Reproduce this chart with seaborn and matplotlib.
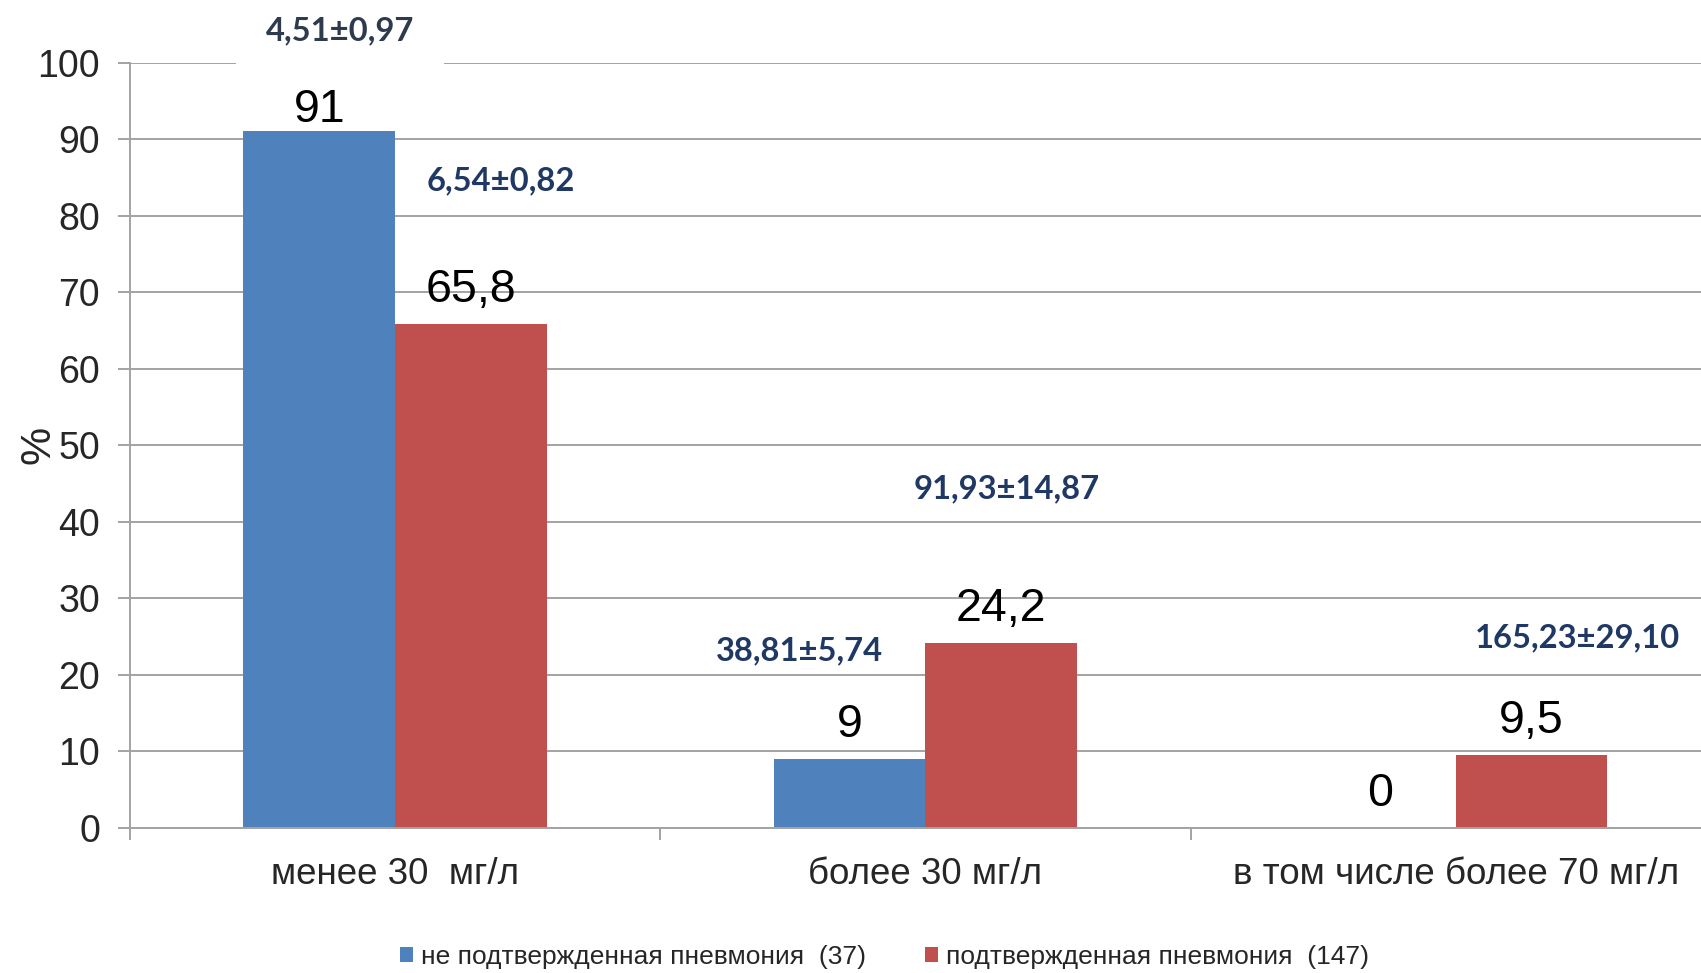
import matplotlib
matplotlib.use("Agg")
import matplotlib.pyplot as plt
import seaborn as sns
import pandas as pd

# CRP level groups and share of patients (%) in each group
categories = ["менее 30  мг/л", "более 30 мг/л", "в том числе более 70 мг/л"]
groups = ["не подтвержденная пневмония  (37)", "подтвержденная пневмония  (147)"]
unconfirmed = [91, 9, 0]
confirmed = [65.8, 24.2, 9.5]

# mean CRP ± SD (mg/l) shown above each group of bars
crp_unconfirmed = ["4,51±0,97", "38,81±5,74", None]
crp_confirmed = ["6,54±0,82", "91,93±14,87", "165,23±29,10"]

yticks = list(range(0, 101, 10))

BLUE = "#4F81BD"
RED = "#C0504D"
GRID = "#A3A3A3"

sns.set_style("white")
plt.rcParams["font.family"] = ["Liberation Sans", "DejaVu Sans"]

df = pd.DataFrame({
    "cat": categories * 2,
    "group": [groups[0]] * 3 + [groups[1]] * 3,
    "value": unconfirmed + confirmed,
})

fig = plt.figure(figsize=(17.01, 9.73), dpi=100)
ax = fig.add_axes([130 / 1701, 1 - 828 / 973, 3 * 530.3 / 1701, (828 - 62.6) / 973])

sns.barplot(data=df, x="cat", y="value", hue="group", palette=[BLUE, RED],
            width=0.572, gap=0, saturation=1, errorbar=None, ax=ax,
            linewidth=0)

ax.set_xlim(-0.5, 2.5)
ax.set_ylim(0, 100)
ax.set_yticks(yticks)
ax.set_yticklabels([str(t) for t in yticks])
ax.yaxis.grid(True, color=GRID, linewidth=1.4)
ax.set_axisbelow(True)

for s in ("top", "right"):
    ax.spines[s].set_visible(False)
for s in ("left", "bottom"):
    ax.spines[s].set_color(GRID)
    ax.spines[s].set_linewidth(1.4)

ax.tick_params(axis="y", which="major", direction="out", length=8.6, width=1.4,
               color=GRID, labelsize=27, pad=13, left=True)
ax.set_xticks([0, 1, 2])
ax.set_xticklabels(categories)
ax.tick_params(axis="x", which="major", length=0, labelsize=26.5, pad=21)
ax.set_xticks([-0.5, 0.5, 1.5, 2.5], minor=True)
ax.tick_params(axis="x", which="minor", direction="out", length=8.6, width=1.4,
               color=GRID, bottom=True)
ax.set_xlabel("")

ax.set_ylabel("%", fontsize=31)
ax.yaxis.set_label_coords((38 - 130) / (3 * 530.3), 0.5)
ax.yaxis.label.set_ha("center")
ax.yaxis.label.set_va("center")

# value labels above bars
def fmt(v):
    s = f"{v:g}"
    return s.replace(".", ",")

for container in ax.containers:
    for bar in container:
        v = bar.get_height()
        xc = bar.get_x() + bar.get_width() / 2
        y = v + 2.9
        if y > 92.5:
            y = v + 1.2
        ax.text(xc, y, fmt(v), ha="center", va="baseline", fontsize=33.5,
                color="black")

# CRP mean ± SD labels; the top one sits on a white box over the 100 gridline
ann_font = ["Lato", "DejaVu Sans"]
crp_pos_unconf = [(-0.104, 104.2, "#2E3B4E"), (0.763, 23.1, "#1F3864"), None]
crp_pos_conf = [(0.1996, 84.5, "#1F3864"), (1.154, 44.3, "#1F3864"),
                (2.230, 24.8, "#1F3864")]
for labels, positions in ((crp_unconfirmed, crp_pos_unconf),
                          (crp_confirmed, crp_pos_conf)):
    for lab, pos in zip(labels, positions):
        if lab is None:
            continue
        x, y, c = pos
        box = None
        if y > 100:
            box = dict(boxstyle="square,pad=0.9", facecolor="white",
                       edgecolor="none")
        ax.text(x, y, lab, ha="center", va="center", fontsize=23.6,
                fontweight="bold", family=ann_font, color=c, clip_on=False,
                bbox=box, zorder=5)

handles, labels = ax.get_legend_handles_labels()
if ax.get_legend() is not None:
    ax.get_legend().remove()
fig.legend(handles, labels, loc="center", bbox_to_anchor=(884.6 / 1701, 1 - 957 / 973),
           ncol=2, frameon=False, fontsize=19, handlelength=0.5, handleheight=0.5,
           handletextpad=0.3, columnspacing=2.25)

fig.savefig("out.png", dpi=100)
